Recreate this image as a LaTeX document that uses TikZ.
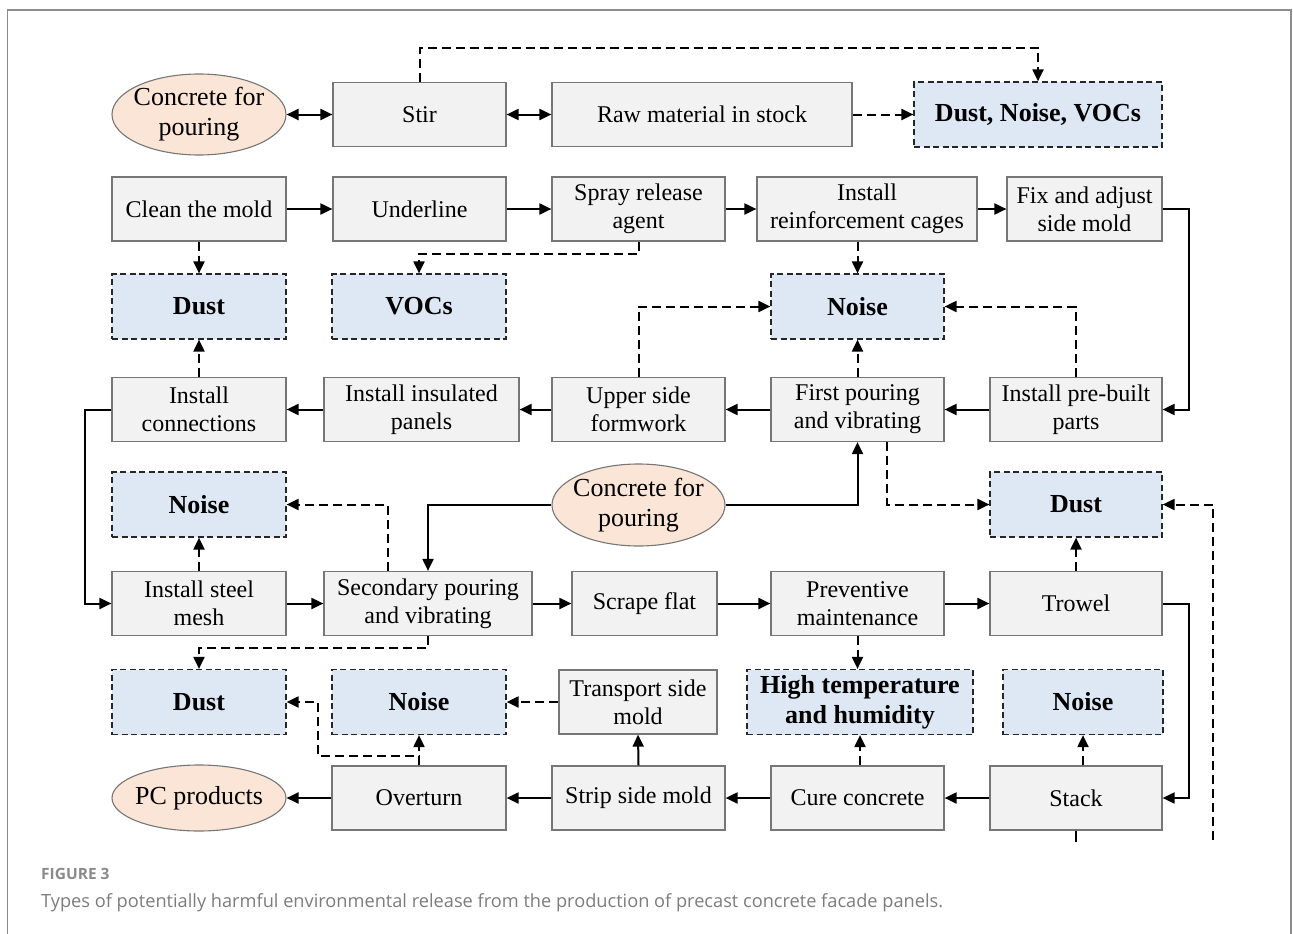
\documentclass[tikz,border=0pt]{standalone}
\usepackage{fontspec}
\setmainfont{Liberation Serif}
\newfontfamily\capfont{Open Sans}
\usetikzlibrary{arrows.meta,shapes.geometric,calc}
\definecolor{boxfill}{HTML}{F2F2F2}
\definecolor{boxline}{HTML}{767676}
\definecolor{emisfill}{HTML}{DEE8F4}
\definecolor{srcfill}{HTML}{FBE5D6}
\definecolor{framegray}{HTML}{8C8C8C}
\definecolor{capgray}{HTML}{8A8A8A}
\definecolor{captext}{HTML}{7C7C7C}
\tikzset{
  proc/.style={rectangle, draw=boxline, fill=boxfill, line width=1.2pt, minimum height=64pt, inner sep=0pt, align=center, font=\fontsize{24}{28}\selectfont},
  emis/.style={rectangle, draw=black!85, fill=emisfill, line width=1.2pt, dash pattern=on 6pt off 3.5pt, minimum height=65pt, inner sep=0pt, align=center, font=\fontsize{26}{30}\selectfont\bfseries},
  src/.style={ellipse, draw=boxline, fill=srcfill, line width=1.1pt, inner sep=0pt},
  srctext/.style={align=center, inner sep=0pt, font=\fontsize{26}{30}\selectfont},
  flow/.style={line width=2pt, -{Triangle[length=12pt,width=11pt]}},
  dflow/.style={line width=2pt, dash pattern=on 9pt off 5pt, -{Triangle[length=12pt,width=11pt]}},
  sline/.style={line width=2pt},
  both/.style={line width=2pt, {Triangle[length=12pt,width=11pt]}-{Triangle[length=12pt,width=11pt]}}
}
\begin{document}
\begin{tikzpicture}[x=1pt,y=-1pt]
\useasboundingbox (0,0) rectangle (1293,934);
% frame
\draw[framegray, line width=1.5pt] (7.5,940) -- (7.5,10) -- (1291,10) -- (1291,940);

% row 1
\node[src, minimum width=174pt, minimum height=81pt, label={[srctext]center:Concrete for\\pouring}] (e1) at (199,114.5) {};
\node[proc, minimum width=173pt] (stir) at (419.5,114.5) {Stir};
\node[proc, minimum width=300pt] (raw) at (702,114.5) {Raw material in stock};
\node[emis, minimum width=248pt] (dnv) at (1038,114.5) {Dust, Noise, VOCs};

% row 2
\node[proc, minimum width=174pt] (clean) at (199,209) {Clean the mold};
\node[proc, minimum width=173pt] (under) at (419.5,209) {Underline};
\node[proc, minimum width=173pt] (spray) at (638.5,209) {Spray release\\agent};
\node[proc, minimum width=220pt] (cages) at (867,209) {Install\\reinforcement cages};
\node[proc, minimum width=155pt] (fix) at (1084.5,209) {Fix and adjust\\side mold};

% row 3
\node[emis, minimum width=174pt] (dust3) at (199,306.5) {Dust};
\node[emis, minimum width=174pt] (vocs3) at (419,306.5) {VOCs};
\node[emis, minimum width=173pt] (noise3) at (857.5,306.5) {Noise};

% row 4
\node[proc, minimum width=174pt] (conn) at (199,409.5) {Install\\connections};
\node[proc, minimum width=195pt] (insul) at (421.5,409.5) {Install insulated\\panels};
\node[proc, minimum width=173pt] (upper) at (638.5,409.5) {Upper side\\formwork};
\node[proc, minimum width=173pt] (first) at (857.5,409.5) {First pouring\\and vibrating};
\node[proc, minimum width=172pt] (prebuilt) at (1076,409.5) {Install pre-built\\parts};

% row 5
\node[emis, minimum width=174pt] (noise5) at (199,504.5) {Noise};
\node[src, minimum width=173pt, minimum height=82pt, label={[srctext]center:Concrete for\\pouring}] (e2) at (638.5,505) {};
\node[emis, minimum width=172pt] (dust5) at (1076,504.5) {Dust};

% row 6
\node[proc, minimum width=174pt] (mesh) at (199,603.5) {Install steel\\mesh};
\node[proc, minimum width=208pt] (second) at (428,603.5) {Secondary pouring\\and vibrating};
\node[proc, minimum width=145pt] (scrape) at (644.5,603.5) {Scrape flat};
\node[proc, minimum width=173pt] (prevent) at (857.5,603.5) {Preventive\\maintenance};
\node[proc, minimum width=172pt] (trowel) at (1076,603.5) {Trowel};

% row 7
\node[emis, minimum width=174pt] (dust7) at (199,702) {Dust};
\node[emis, minimum width=174pt] (noise7a) at (419,702) {Noise};
\node[proc, minimum width=158pt] (transport) at (638,702) {Transport side\\mold};
\node[emis, minimum width=226pt] (hightemp) at (860,702) {High temperature\\and humidity};
\node[emis, minimum width=160pt] (noise7b) at (1083,702) {Noise};

% row 8
\node[src, minimum width=174pt, minimum height=66pt, label={[srctext]center:PC products}] (pc) at (199,798) {};
\node[proc, minimum width=174pt] (overturn) at (419,798) {Overturn};
\node[proc, minimum width=173pt] (strip) at (638.5,798) {Strip side mold};
\node[proc, minimum width=173pt] (cure) at (857.5,798) {Cure concrete};
\node[proc, minimum width=172pt] (stack) at (1076,798) {Stack};

% free ends
\coordinate (rbot) at (1213,840);
\coordinate (stackend) at (1076,842);

% connectors row 1
\draw[both] (e1.east) -- (stir.west);
\draw[both] (stir.east) -- (raw.west);
\draw[dflow] (raw.east) -- (dnv.west);
\draw[dflow] (stir.north) -- ++(0,-34) -| (dnv.north);

% row 2
\draw[flow] (clean.east) -- (under.west);
\draw[flow] (under.east) -- (spray.west);
\draw[flow] (spray.east) -- (cages.west);
\draw[flow] (cages.east) -- (fix.west);
\draw[flow] (fix.east) -- ++(26,0) |- (prebuilt.east);

% row 2 -> row 3
\draw[dflow] (clean.south) -- (dust3.north);
\draw[dflow] (spray.south) -- ++(0,12) -| (vocs3.north);
\draw[dflow] (cages.south -| noise3.north) -- (noise3.north);

% row 4
\draw[flow] (prebuilt.west) -- (first.east);
\draw[flow] (first.west) -- (upper.east);
\draw[flow] (upper.west) -- (insul.east);
\draw[flow] (insul.west) -- (conn.east);
\draw[dflow] (conn.north) -- (dust3.south);
\draw[dflow] (upper.north) |- (noise3.west);
\draw[dflow] (first.north) -- (noise3.south);
\draw[dflow] (prebuilt.north) |- (noise3.east);
\draw[flow] (conn.west) -- ++(-26,0) |- (mesh.west);

% row 5
\draw[flow] (e2.east) -| (first.south);
\draw[flow] (e2.west) -| (second.north);
\draw[dflow] ($(first.south)+(29.5,0)$) |- (dust5.west);
\draw[dflow] ($(second.north)+(-40,0)$) |- (noise5.east);
\draw[dflow] (mesh.north) -- (noise5.south);
\draw[dflow] (trowel.north) -- (dust5.south);
\draw[dflow] (rbot) |- (dust5.east);

% row 6
\draw[flow] (mesh.east) -- (second.west);
\draw[flow] (second.east) -- (scrape.west);
\draw[flow] (scrape.east) -- (prevent.west);
\draw[flow] (prevent.east) -- (trowel.west);
\draw[flow] (trowel.east) -- ++(26,0) |- (stack.east);
\draw[dflow] (second.south) -- ++(0,12) -| (dust7.north);
\draw[dflow] (prevent.south) -- (prevent.south |- hightemp.north);

% row 7
\draw[dflow] (transport.west) -- (noise7a.east);
\draw[dflow] (overturn.north) -- (noise7a.south);
\draw[dflow] (overturn.north) -- ++(0,-9) -- ++(-101,0) |- (dust7.east);
\draw[flow] (strip.north) -- (transport.south);
\draw[dflow] (hightemp.south |- cure.north) -- (hightemp.south);
\draw[dflow] (noise7b.south |- stack.north) -- (noise7b.south);

% row 8
\draw[flow] (stack.west) -- (cure.east);
\draw[flow] (cure.west) -- (strip.east);
\draw[flow] (strip.west) -- (overturn.east);
\draw[flow] (overturn.west) -- (pc.east);
\draw[sline] (stack.south) -- (stackend);

% caption
\node[anchor=base west, inner sep=0pt, text=capgray, font=\capfont\bfseries\fontsize{15.5}{17}\selectfont] (figlabel) at (41,879) {FIGURE 3};
\node[anchor=base west, inner sep=0pt, text=captext, font=\capfont\fontsize{18.2}{22}\selectfont] (caption) at (41,907) {Types of potentially harmful environmental release from the production of precast concrete facade panels.};
\end{tikzpicture}
\end{document}
